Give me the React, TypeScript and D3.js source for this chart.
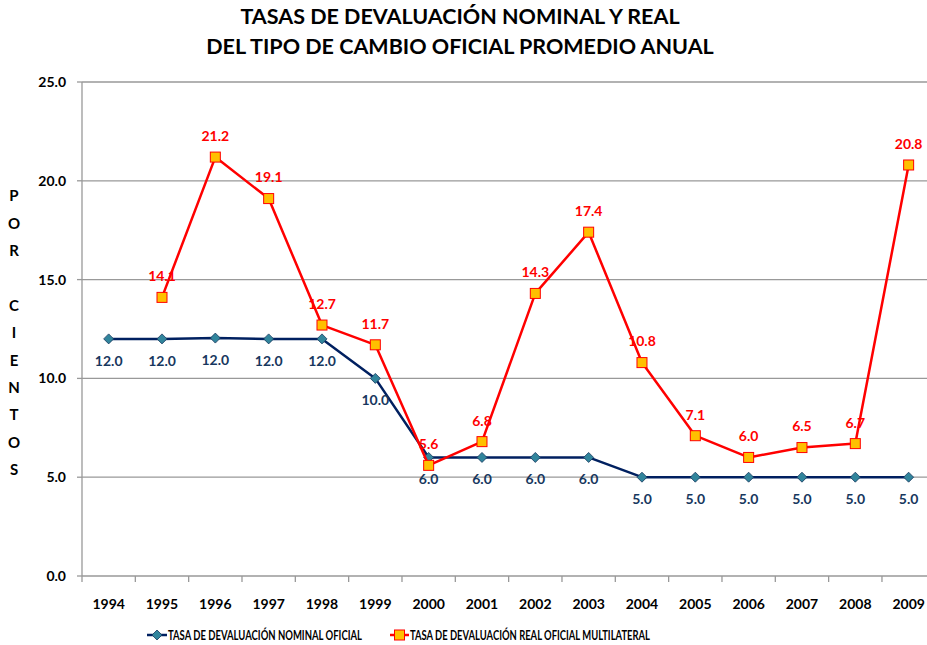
import React from "react";
import * as d3 from "d3";

const years = ["1994","1995","1996","1997","1998","1999","2000","2001","2002","2003","2004","2005","2006","2007","2008","2009"];
const nominal: number[] = [12.0, 12.0, 12.04, 12.0, 12.0, 10.0, 6.0, 6.0, 6.0, 6.0, 5.0, 5.0, 5.0, 5.0, 5.0, 5.0];
const real: (number | null)[] = [null, 14.1, 21.2, 19.1, 12.7, 11.7, 5.6, 6.8, 14.3, 17.4, 10.8, 7.1, 6.0, 6.5, 6.7, 20.8];
const yTicks = [0, 5, 10, 15, 20, 25];
const titleLines = ["TASAS DE DEVALUACIÓN NOMINAL Y REAL", "DEL TIPO DE CAMBIO OFICIAL PROMEDIO ANUAL"];
const yTitle = "POR CIENTOS";
const legendNames = ["TASA DE DEVALUACIÓN NOMINAL OFICIAL", "TASA DE DEVALUACIÓN REAL OFICIAL MULTILATERAL"];

const W = 927, H = 645;
const left = 82, right = 935.3, top = 82, bottom = 576;
const FONT = "Lato, 'Open Sans', sans-serif";
const NAVY = "#002060";
const NAVY_TXT = "#17375E";
const TEAL = "#31859C";
const RED = "#FF0000";
const ORANGE = "#FFC000";

export default function App() {
  const x = d3.scaleBand<string>().domain(years).range([left, right]);
  const y = d3.scaleLinear().domain([0, 25]).range([bottom, top]);
  const cx = (yr: string) => (x(yr) as number) + x.bandwidth() / 2;

  const lineN = d3.line<number>().x((_, i) => cx(years[i])).y((d) => y(d));
  const realPts = real.map((v, i) => ({ v, yr: years[i] })).filter((p) => p.v !== null) as { v: number; yr: string }[];
  const lineR = d3.line<{ v: number; yr: string }>().x((d) => cx(d.yr)).y((d) => y(d.v));

  const diamond = (px: number, py: number, r = 5) => `M${px},${py - r}L${px + r},${py}L${px},${py + r}L${px - r},${py}Z`;
  const LY = 635;

  return (
    <svg width={W} height={H} style={{ position: "absolute", left: 0, top: 0, background: "#fff" }} fontFamily={FONT}>
      {titleLines.map((t, i) => (
        <text key={t} x={460} y={24 + i * 30} textAnchor="middle" fontSize={21.5} fontWeight={700} fill="#000">{t}</text>
      ))}
      {/* gridlines */}
      {yTicks.filter((t) => t > 0).map((t) => (
        <line key={t} x1={left} x2={right} y1={y(t)} y2={y(t)} stroke="#999" strokeWidth={1.3} />
      ))}
      {/* axes */}
      <line x1={left} x2={left} y1={top} y2={bottom} stroke="#999" strokeWidth={1.3} />
      <line x1={left} x2={right} y1={bottom} y2={bottom} stroke="#999" strokeWidth={1.3} />
      {yTicks.map((t) => (
        <g key={t}>
          <line x1={left - 5} x2={left} y1={y(t)} y2={y(t)} stroke="#999" strokeWidth={1.3} />
          <text x={66} y={y(t)} dy="0.35em" textAnchor="end" fontSize={14} fontWeight={700} fill="#000">{t.toFixed(1)}</text>
        </g>
      ))}
      {years.map((yr) => (
        <g key={yr}>
          <line x1={x(yr) as number} x2={x(yr) as number} y1={bottom} y2={bottom + 6} stroke="#999" strokeWidth={1.3} />
          <text x={cx(yr)} y={604} dy="0.35em" textAnchor="middle" fontSize={14} fontWeight={700} fill="#000">{yr}</text>
        </g>
      ))}
      {/* y title */}
      {yTitle.split("").map((c, i) => (
        <text key={i} x={14} y={196 + i * 27.4} dy="0.35em" textAnchor="middle" fontSize={15} fontWeight={700} fill="#000">{c}</text>
      ))}
      {/* nominal line */}
      <path d={lineN(nominal) || ""} fill="none" stroke={NAVY} strokeWidth={2.5} strokeLinejoin="round" />
      {nominal.map((v, i) => (
        <path key={i} d={diamond(cx(years[i]), y(v))} fill={TEAL} stroke="#17375E" strokeWidth={0.8} />
      ))}
      {/* real line */}
      <path d={lineR(realPts) || ""} fill="none" stroke={RED} strokeWidth={2.5} strokeLinejoin="round" />
      {realPts.map((p) => (
        <rect key={p.yr} x={cx(p.yr) - 5} y={y(p.v) - 5} width={10} height={10} fill={ORANGE} stroke={RED} strokeWidth={1} />
      ))}
      {/* labels */}
      {nominal.map((v, i) => (
        <text key={i} x={cx(years[i])} y={y(v) + 22} dy="0.35em" textAnchor="middle" fontSize={14} fontWeight={700} fill={NAVY_TXT}>{v.toFixed(1)}</text>
      ))}
      {realPts.map((p) => (
        <text key={p.yr} x={cx(p.yr)} y={y(p.v) - 21} dy="0.35em" textAnchor="middle" fontSize={14} fontWeight={700} fill={RED}>{p.v.toFixed(1)}</text>
      ))}
      {/* legend */}
      <g>
        <line x1={147} x2={167} y1={LY} y2={LY} stroke={NAVY} strokeWidth={2.5} />
        <path d={diamond(157, LY)} fill={TEAL} stroke="#17375E" strokeWidth={0.8} />
        <text x={168} y={LY} dy="0.35em" fontSize={13} fontWeight={700} fill="#000" textLength={194} lengthAdjust="spacingAndGlyphs">{legendNames[0]}</text>
        <line x1={390} x2={409} y1={LY} y2={LY} stroke={RED} strokeWidth={2.5} />
        <rect x={394.5} y={LY - 5} width={10} height={10} fill={ORANGE} stroke={RED} strokeWidth={1} />
        <text x={410} y={LY} dy="0.35em" fontSize={13} fontWeight={700} fill="#000" textLength={240} lengthAdjust="spacingAndGlyphs">{legendNames[1]}</text>
      </g>
    </svg>
  );
}
